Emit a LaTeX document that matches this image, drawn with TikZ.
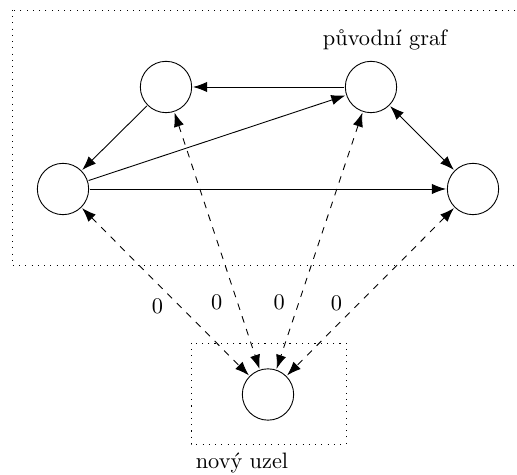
\documentclass[tikz,border=0pt]{standalone}
\usetikzlibrary{arrows.meta}
\begin{document}
\begin{tikzpicture}[x=0.448pt,y=-0.448pt,
  vertex/.style={circle,draw,minimum size=23pt,inner sep=0pt,outer sep=0.6pt},
  frame/.style={draw,dash pattern=on 0.45pt off 2.35pt},
  tip/.tip={Latex[length=6.3pt,width=4.6pt]},
  edge/.style={-tip},
  dedge/.style={tip-tip,dashed},
  lbl/.style={inner sep=0pt,font=\normalsize}]
\useasboundingbox (0,0) rectangle (517,475);
\draw[frame] (12,10) rectangle (530,265.5);
\draw[frame] (191,343) rectangle (346,444);
\node[lbl] (t1) at (385,40) {původní graf};
\node[lbl] (t2) at (242,463) {nový uzel};
\node[vertex] (A) at (166,87) {};
\node[vertex] (B) at (371,87) {};
\node[vertex] (C) at (63,189) {};
\node[vertex] (D) at (473,189) {};
\node[vertex] (E) at (268,394.5) {};
\draw[edge] (B) -- (A);
\draw[edge] (A) -- (C);
\draw[edge] (C) -- (B);
\draw[edge] (C) -- (D);
\draw[tip-tip] (B) -- (D);
\draw[dedge] (C) -- node[lbl,pos=0.52,shift={(-11.5,11.5)}] (l1) {0} (E);
\draw[dedge] (A) -- node[lbl,pos=0.717,shift={(-18.7,6.2)}] (l2) {0} (E);
\draw[dedge] (B) -- node[lbl,pos=0.763,shift={(-17.6,-5.8)}] (l3) {0} (E);
\draw[dedge] (D) -- node[lbl,pos=0.635,shift={(-11.5,-11.5)}] (l4) {0} (E);
\end{tikzpicture}
\end{document}
